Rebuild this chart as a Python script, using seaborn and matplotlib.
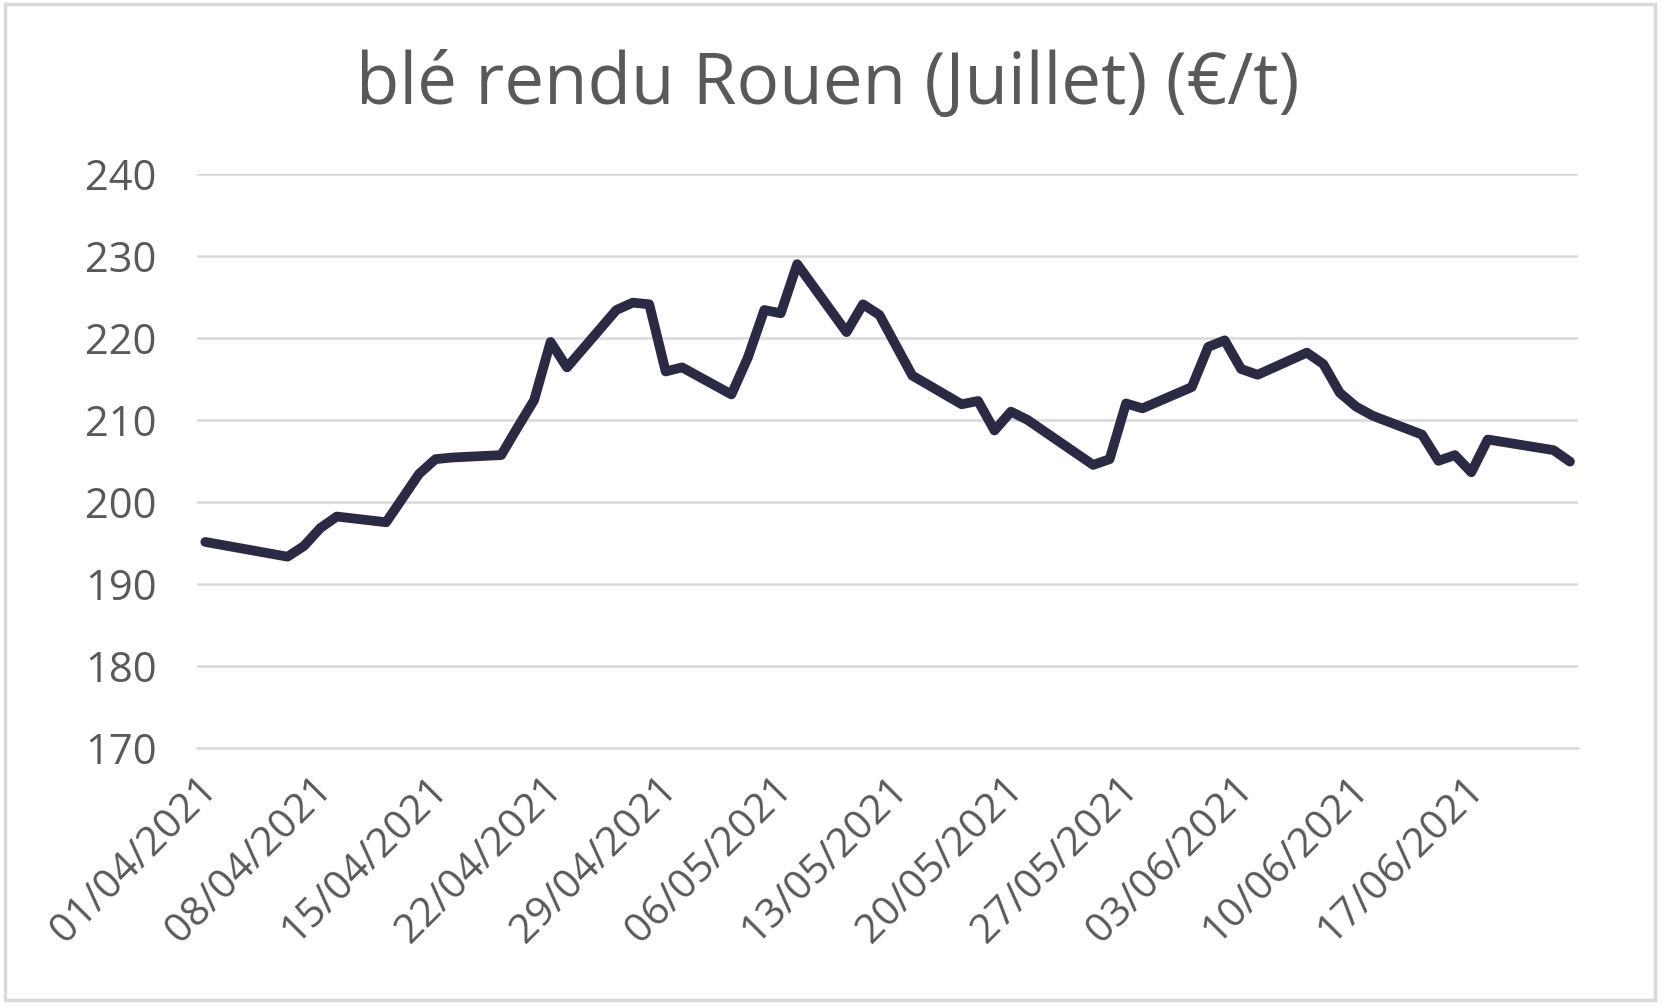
import pandas as pd
import numpy as np
import matplotlib
matplotlib.use("Agg")
import matplotlib.pyplot as plt
import matplotlib.dates as mdates
from matplotlib.patches import Rectangle
import seaborn as sns

# ---- data ----
dates = [
    "2021-04-01", "2021-04-06", "2021-04-07", "2021-04-08", "2021-04-09",
    "2021-04-12", "2021-04-14", "2021-04-15", "2021-04-16", "2021-04-19",
    "2021-04-20", "2021-04-21", "2021-04-22", "2021-04-23", "2021-04-26",
    "2021-04-27", "2021-04-28", "2021-04-29", "2021-04-30", "2021-05-03",
    "2021-05-04", "2021-05-05", "2021-05-06", "2021-05-07", "2021-05-10",
    "2021-05-11", "2021-05-12", "2021-05-14", "2021-05-17", "2021-05-18",
    "2021-05-19", "2021-05-20", "2021-05-21", "2021-05-25", "2021-05-26",
    "2021-05-27", "2021-05-28", "2021-05-31", "2021-06-01", "2021-06-02",
    "2021-06-03", "2021-06-04", "2021-06-07", "2021-06-08", "2021-06-09",
    "2021-06-10", "2021-06-11", "2021-06-14", "2021-06-15", "2021-06-16",
    "2021-06-17", "2021-06-18", "2021-06-22", "2021-06-23",
]
prices = [
    195.1, 193.3, 194.6, 196.8, 198.2,
    197.5, 203.4, 205.2, 205.4, 205.7,
    209.1, 212.4, 219.5, 216.4, 223.4,
    224.3, 224.1, 215.9, 216.4, 213.1,
    217.6, 223.4, 223.0, 229.0, 220.7,
    224.1, 222.8, 215.4, 211.9, 212.3,
    208.7, 211.0, 210.0, 204.5, 205.2,
    212.0, 211.4, 214.0, 218.9, 219.7,
    216.2, 215.5, 218.2, 216.8, 213.3,
    211.6, 210.5, 208.2, 205.0, 205.7,
    203.6, 207.6, 206.3, 204.9,
]
title = "blé rendu Rouen (Juillet) (€/t)"
y_ticks = [170, 180, 190, 200, 210, 220, 230, 240]
x_tick_dates = ["2021-04-01", "2021-04-08", "2021-04-15", "2021-04-22",
                "2021-04-29", "2021-05-06", "2021-05-13", "2021-05-20",
                "2021-05-27", "2021-06-03", "2021-06-10", "2021-06-17",
                "2021-06-24"]

# ---- style ----
sns.set_theme(style="white")
plt.rcParams["font.family"] = ["Open Sans", "DejaVu Sans"]
text_color = "#595959"
grid_color = "#d9d9d9"
line_color = "#2b2a45"

df = pd.DataFrame({"date": pd.to_datetime(dates), "price": prices})
# points sit in the middle of their day (date axis "between tick marks")
df["x"] = df["date"] + pd.Timedelta(hours=12)

fig = plt.figure(figsize=(16.63, 10.08), dpi=100)
ax = fig.add_axes([0.1185, 0.2583, 0.949 - 0.1185, 0.8274 - 0.2583])

sns.lineplot(data=df, x="x", y="price", ax=ax, color=line_color,
             linewidth=7.0, solid_joinstyle="round", solid_capstyle="round")

xt = pd.to_datetime(x_tick_dates)
ax.set_xlim(xt[0], xt[-1])
ax.set_ylim(y_ticks[0], y_ticks[-1])
ax.set_yticks(y_ticks)
ax.set_yticklabels([str(v) for v in y_ticks])
ax.set_xticks(xt)
ax.set_xticklabels([d.strftime("%d/%m/%Y") for d in xt[:-1]] + [""])

ax.grid(axis="y", color=grid_color, linewidth=1.8)
ax.grid(axis="x", visible=False)
ax.set_axisbelow(True)
for s in ["left", "right", "top"]:
    ax.spines[s].set_visible(False)
ax.spines["bottom"].set_color(grid_color)
ax.spines["bottom"].set_linewidth(1.8)

ax.tick_params(axis="y", length=0, pad=29, labelsize=30, labelcolor=text_color)
ax.tick_params(axis="x", length=9, width=1.8, color=grid_color, direction="out",
               pad=6, labelsize=29.5, labelcolor=text_color)
for lab in ax.get_xticklabels():
    lab.set_rotation(45)
    lab.set_ha("right")
    lab.set_va("top")
    lab.set_rotation_mode("anchor")

ax.set_xlabel("")
ax.set_ylabel("")

fig.text(0.498, 0.915, title, ha="center", va="center", fontsize=51,
         color=text_color)

fig.patches.append(Rectangle((0.003, 0.008), 0.992, 0.988, transform=fig.transFigure,
                             fill=False, edgecolor=grid_color, linewidth=2.5))

fig.savefig("out.png", dpi=100, facecolor="white")
